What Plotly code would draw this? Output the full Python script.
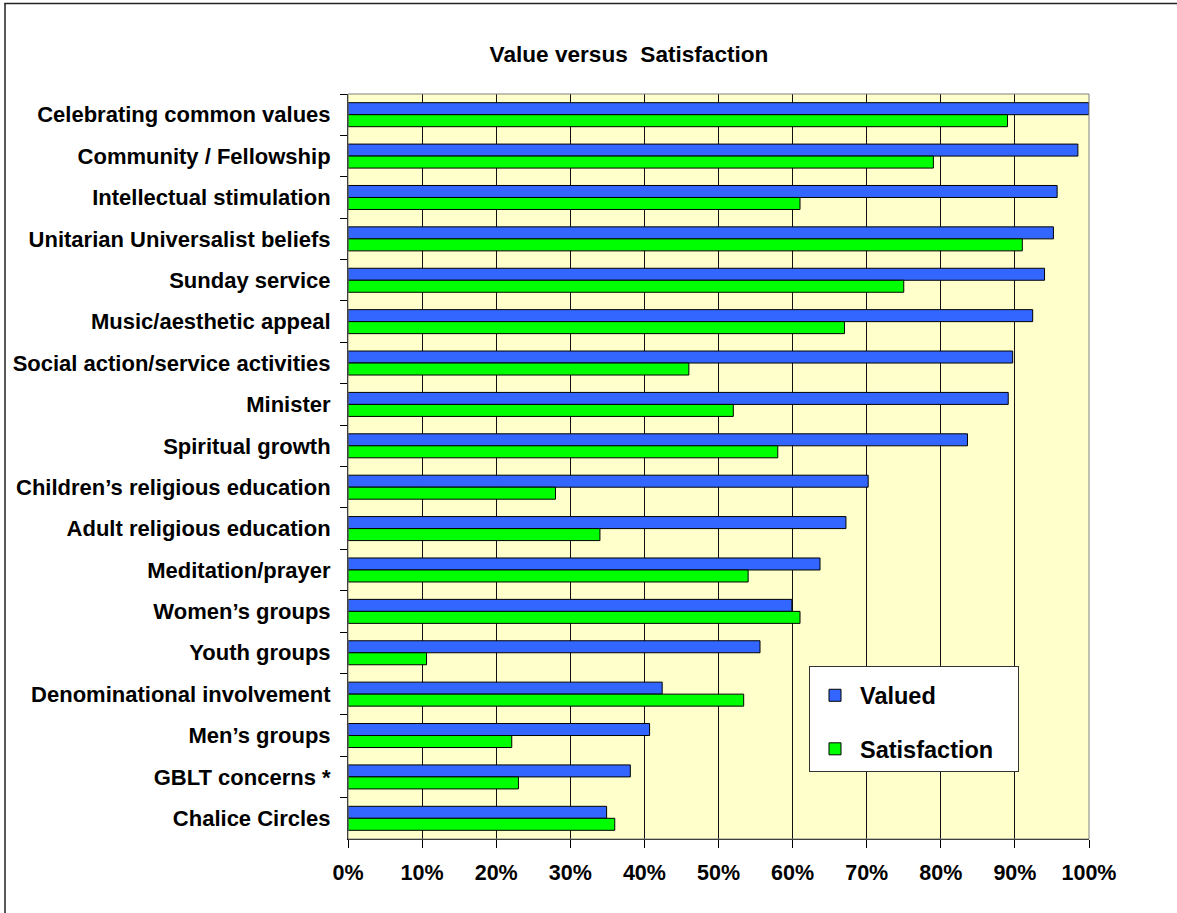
import plotly.graph_objects as go

categories = [
    "Celebrating common values",
    "Community / Fellowship",
    "Intellectual stimulation",
    "Unitarian Universalist beliefs",
    "Sunday service",
    "Music/aesthetic appeal",
    "Social action/service activities",
    "Minister",
    "Spiritual growth",
    "Children\u2019s religious education",
    "Adult religious education",
    "Meditation/prayer",
    "Women\u2019s groups",
    "Youth groups",
    "Denominational involvement",
    "Men\u2019s groups",
    "GBLT concerns *",
    "Chalice Circles",
]
valued = [100.0, 98.5, 95.7, 95.2, 94.0, 92.4, 89.7, 89.1, 83.6, 70.2,
          67.2, 63.7, 59.9, 55.6, 42.4, 40.7, 38.1, 34.9]
satisfaction = [89.0, 79.0, 61.0, 91.0, 75.0, 67.0, 46.0, 52.0, 58.0, 28.0,
                34.0, 54.0, 61.0, 10.6, 53.4, 22.1, 23.0, 36.0]
x_ticks = list(range(0, 101, 10))
x_tick_labels = [f"{t}%" for t in x_ticks]
series_names = ["Valued", "Satisfaction"]
series_colors = ["#3366FF", "#00FF00"]

W, H = 1177, 913
L, R, T, B = 348, 88, 94, 74
PW, PH = W - L - R, H - T - B
FONT = "Liberation Sans, Arial, sans-serif"
PAD = "\u00a0" * 3


def px_x(px):
    return (px - L) / PW


def px_y(py):
    return (H - B - py) / PH


fig = go.Figure()
for name, vals, col in zip(series_names, [valued, satisfaction], series_colors):
    fig.add_trace(go.Bar(
        y=categories, x=vals, name=name + PAD, orientation="h",
        marker=dict(color=col, line=dict(color="black", width=1)),
        legendgroup=name,
    ))

shapes = [
    dict(type="rect", xref="paper", yref="paper", x0=0, x1=1, y0=0, y1=1,
         line=dict(color="#808080", width=1), fillcolor="rgba(0,0,0,0)", layer="above"),
    dict(type="line", xref="paper", yref="paper", x0=px_x(5), x1=px_x(5),
         y0=px_y(3.5), y1=px_y(H + 5), line=dict(color="#222222", width=1.5)),
    dict(type="line", xref="paper", yref="paper", x0=px_x(4.3), x1=px_x(W + 5),
         y0=px_y(3.5), y1=px_y(3.5), line=dict(color="#222222", width=1.5)),
]

fig.update_layout(
    width=W, height=H,
    margin=dict(l=L, r=R, t=T, b=B, pad=0),
    paper_bgcolor="white",
    plot_bgcolor="#FFFFCC",
    barmode="group",
    bargap=0.42,
    bargroupgap=0,
    font=dict(family=FONT, color="black", size=22, weight="bold"),
    title=dict(text="Value versus  Satisfaction", x=629 / W, xanchor="center",
               y=1 - 54 / H, yanchor="middle", yref="container",
               font=dict(family=FONT, size=22.6, weight="bold", color="black")),
    shapes=shapes,
    legend=dict(
        x=px_x(809), y=px_y(666), xanchor="left", yanchor="top",
        bgcolor="white", bordercolor="#333333", borderwidth=1,
        font=dict(family=FONT, size=23.5, weight="bold", color="black"),
        traceorder="grouped", tracegroupgap=20, itemwidth=40,
        title=dict(text="\u00a0", font=dict(size=5)),
    ),
    xaxis=dict(
        range=[0, 100], tickvals=x_ticks, ticktext=x_tick_labels,
        showgrid=True, gridcolor="#111111", gridwidth=1,
        showline=True, linecolor="black", linewidth=1,
        ticks="outside", ticklen=8, tickcolor="black",
        tickfont=dict(family=FONT, size=21.5, weight="bold", color="black"),
        ticklabelstandoff=6, zeroline=False, fixedrange=True,
    ),
    yaxis=dict(
        autorange="reversed", categoryorder="array", categoryarray=categories,
        showgrid=False, showline=True, linecolor="black", linewidth=1,
        ticks="outside", ticklen=7, tickcolor="black", tickson="boundaries",
        tickfont=dict(family=FONT, size=22, weight="bold", color="black"),
        ticklabelstandoff=12, fixedrange=True,
    ),
)

fig.write_html(
    "out.html",
    config={"displayModeBar": False},
    post_script="document.body.style.margin='0';document.body.style.overflow='hidden';",
)
